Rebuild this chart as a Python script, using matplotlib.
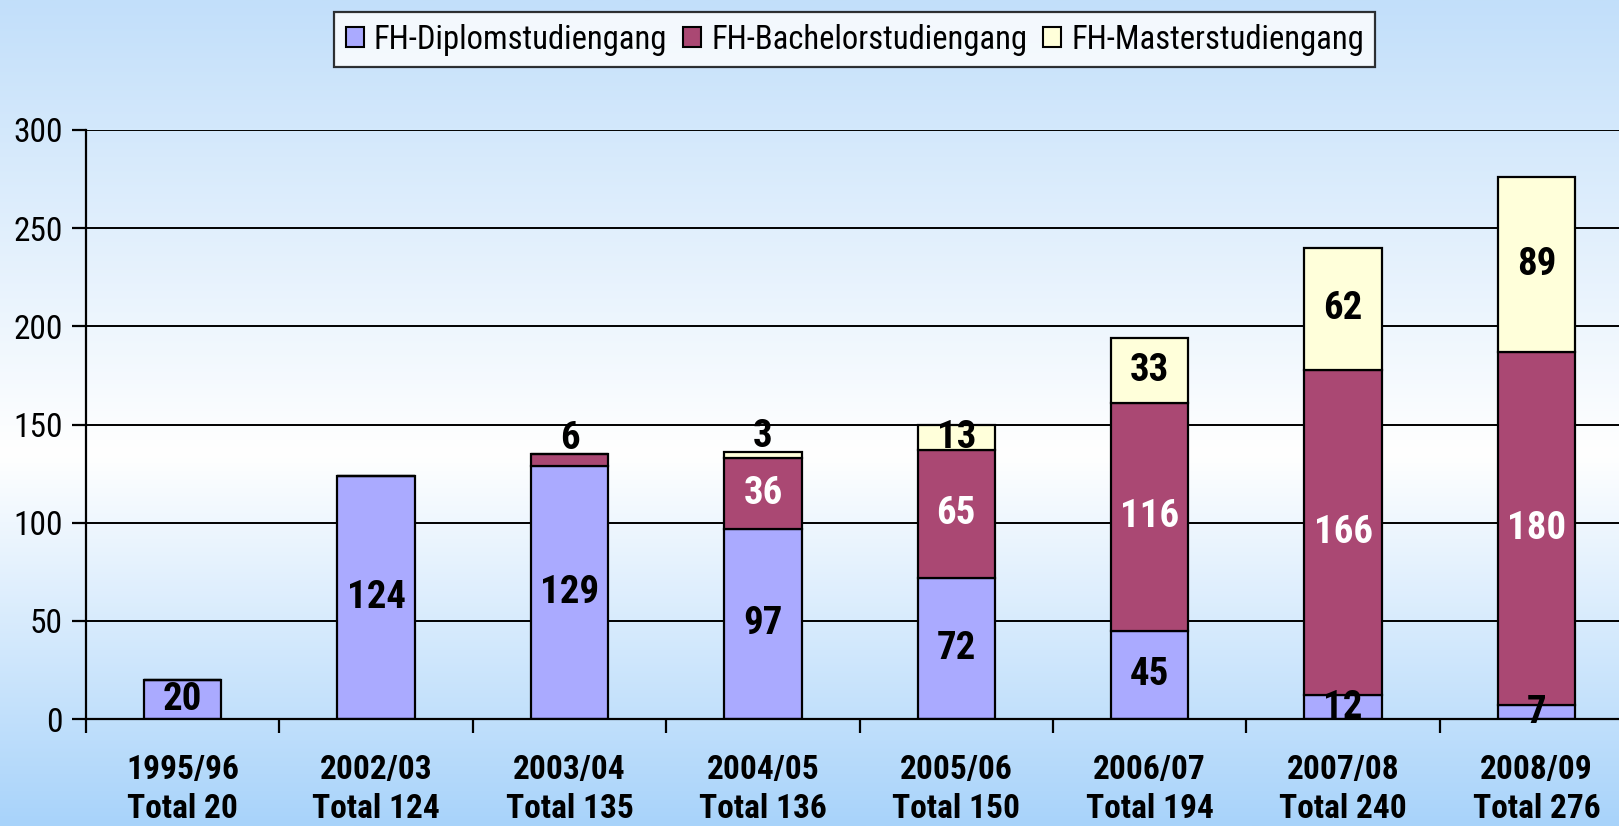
import numpy as np
import matplotlib
matplotlib.use("Agg")
import matplotlib.pyplot as plt
from matplotlib.patches import Patch

# ---- data ----
semesters = ["1995/96", "2002/03", "2003/04", "2004/05", "2005/06", "2006/07", "2007/08", "2008/09"]
diplom = [20, 124, 129, 97, 72, 45, 12, 7]
bachelor = [0, 0, 6, 36, 65, 116, 166, 180]
master = [0, 0, 0, 3, 13, 33, 62, 89]
series_names = ["FH-Diplomstudiengang", "FH-Bachelorstudiengang", "FH-Masterstudiengang"]
y_ticks = [0, 50, 100, 150, 200, 250, 300]

colors = ["#AAAAFF", "#AA4873", "#FFFFDA"]
label_colors = ["black", "white", "black"]

plt.rcParams["font.family"] = ["Roboto Condensed", "DejaVu Sans"]

W, H = 1619, 826
fig = plt.figure(figsize=(W / 100, H / 100), dpi=100)

# background gradient
bg = fig.add_axes([0, 0, 1, 1], zorder=-10)
stops_y = np.array([0.0, 0.55, 1.0])
stops_c = np.array([[194, 223, 250], [255, 255, 255], [168, 211, 250]]) / 255.0
yy = np.linspace(0, 1, 400)
grad = np.stack([np.interp(yy, stops_y, stops_c[:, k]) for k in range(3)], axis=-1)
bg.imshow(grad[:, None, :], aspect="auto", extent=[0, 1, 1, 0])
bg.set_xlim(0, 1); bg.set_ylim(1, 0)
bg.axis("off")

left_px, cat_w = 86, 193.4
ax = fig.add_axes([left_px / W, (H - 719) / H, 8 * cat_w / W, 589 / H])
ax.patch.set_alpha(0)

x = np.arange(len(semesters))
width = 0.40
data = [diplom, bachelor, master]
bottom = np.zeros(len(x))
for k, vals in enumerate(data):
    vals = np.array(vals, dtype=float)
    ax.bar(x, vals, width, bottom=bottom, color=colors[k], edgecolor="black",
           linewidth=1.6, zorder=3, label=series_names[k])
    for i, v in enumerate(vals):
        if v <= 0:
            continue
        top_seg = all(data[j][i] == 0 for j in range(k + 1, 3))
        if v < 10 and top_seg and k > 0:
            ax.annotate(f"{int(v)}", (x[i], bottom[i] + v), xytext=(0, 11),
                        textcoords="offset points", ha="center", va="center",
                        fontsize=28, fontweight="bold", color="black", zorder=5)
        else:
            ax.text(x[i], bottom[i] + v / 2, f"{int(v)}", ha="center", va="center",
                    fontsize=28, fontweight="bold", color=label_colors[k], zorder=5)
    bottom += vals

totals = [d + b + m for d, b, m in zip(diplom, bachelor, master)]

ax.set_xlim(-0.5, len(x) - 0.5)
ax.set_ylim(0, 300)
ax.set_yticks(y_ticks)
ax.set_yticklabels([str(t) for t in y_ticks])
ax.grid(axis="y", color="black", linewidth=1.4, zorder=1)
ax.set_axisbelow(True)

ax.set_xticks(x)
ax.set_xticklabels([f"{s}\nTotal {t}" for s, t in zip(semesters, totals)],
                   fontsize=24, fontweight="bold", linespacing=1.3)
ax.set_xticks(np.arange(-0.5, len(x)), minor=True)
ax.tick_params(axis="x", which="major", length=0, pad=25)
ax.tick_params(axis="x", which="minor", length=10, width=1.6, direction="out", color="black")
ax.tick_params(axis="y", length=10, width=1.6, direction="out", labelsize=24, pad=7, color="black")

for s in ["top", "right"]:
    ax.spines[s].set_visible(False)
for s in ["left", "bottom"]:
    ax.spines[s].set_linewidth(1.6)
    ax.spines[s].set_color("black")
    ax.spines[s].set_zorder(4)

handles = [Patch(facecolor=c, edgecolor="black", linewidth=1.5) for c in colors]
leg = fig.legend(handles, series_names, loc="center", bbox_to_anchor=(0.528, 0.952),
                 ncol=3, fontsize=23.5, frameon=True, fancybox=False, handlelength=0.55,
                 handleheight=0.55, handletextpad=0.3, columnspacing=0.5,
                 borderpad=0.35, edgecolor="black")
leg.get_frame().set_linewidth(1.6)
leg.get_frame().set_facecolor("white")

fig.savefig("out.png", dpi=100)
